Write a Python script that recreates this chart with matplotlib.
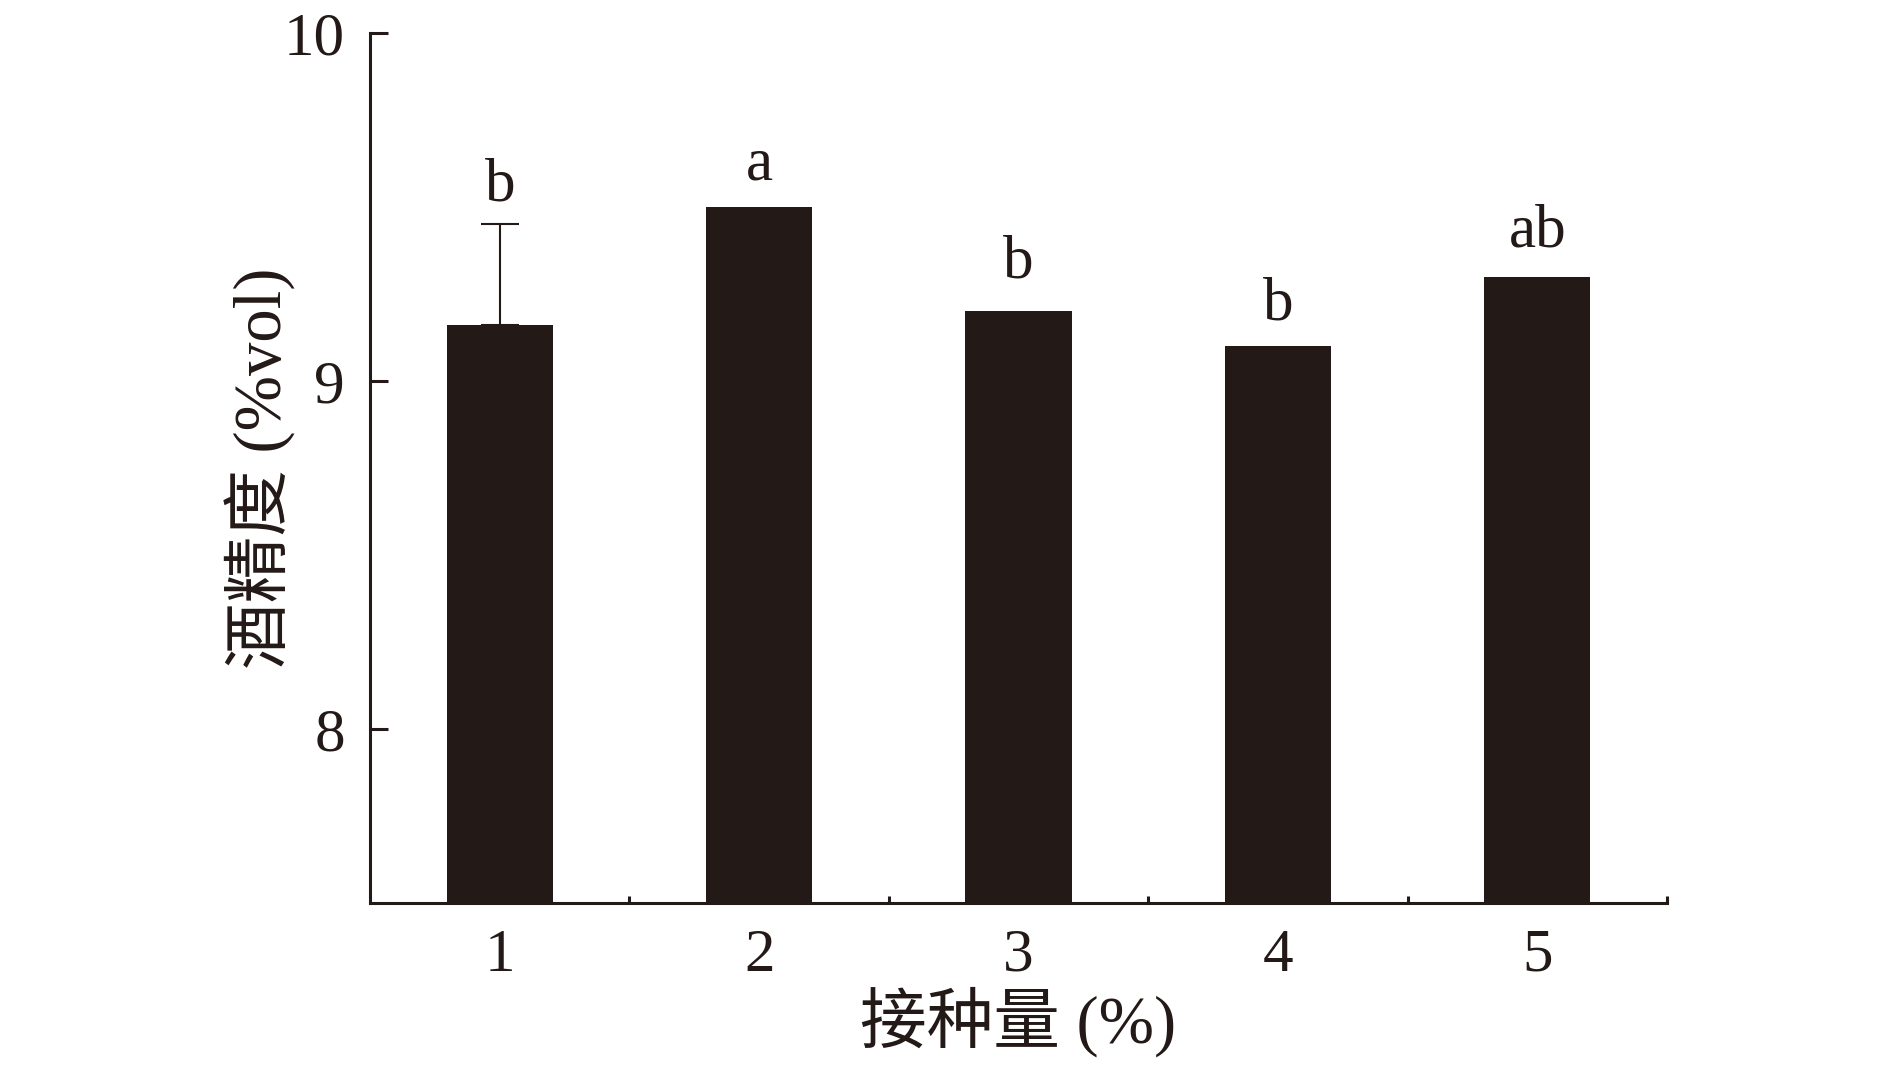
import matplotlib
matplotlib.use("Agg")
import matplotlib.pyplot as plt

# inoculum amount groups and ethanol content
groups = ["1", "2", "3", "4", "5"]
alcohol = [9.16, 9.50, 9.20, 9.10, 9.30]
err_up = [0.29, 0, 0, 0, 0]
letters = ["b", "a", "b", "b", "ab"]
letter_y = [9.56, 9.62, 9.34, 9.22, 9.43]

plt.rcParams["font.family"] = ["Liberation Serif", "Noto Sans CJK SC"]
bar_color = "#231916"

fig = plt.figure(figsize=(18.9, 10.74), dpi=100)
ax = fig.add_axes([0.1958, 0.1592, 0.6862, 0.8101])

x = list(range(1, len(groups) + 1))
ax.bar(x, alcohol, width=0.41, color=bar_color, zorder=2)
ax.errorbar(x[0], alcohol[0], yerr=[[0], [err_up[0]]], fmt="none",
            ecolor=bar_color, elinewidth=1.5, capsize=14, capthick=1.5, zorder=1)

for xi, lab, ly in zip(x, letters, letter_y):
    ax.text(xi, ly, lab, ha="center", va="center", fontsize=44, color=bar_color)

ax.set_xlim(0.5, 5.5)
ax.set_ylim(7.5, 10)
ax.set_yticks([8, 9, 10])
ax.set_yticklabels(["8", "9", "10"])
ax.set_xticks(x)
ax.set_xticklabels(groups)
ax.set_xticks([1.5, 2.5, 3.5, 4.5, 5.5], minor=True)

ax.spines["top"].set_visible(False)
ax.spines["right"].set_visible(False)
for s in ["left", "bottom"]:
    ax.spines[s].set_linewidth(2.2)
    ax.spines[s].set_color(bar_color)

ax.tick_params(axis="y", direction="in", length=13, width=2.2, labelsize=44,
               pad=18, colors=bar_color)
ax.tick_params(axis="x", which="major", length=0, labelsize=44, pad=18,
               colors=bar_color)
ax.tick_params(axis="x", which="minor", direction="in", length=5, width=2.2,
               color=bar_color)

ax.set_ylabel("酒精度 (%vol)", fontsize=48, color=bar_color)
ax.yaxis.set_label_coords(-0.057, 0.5)
ax.set_xlabel("接种量 (%)", fontsize=48, color=bar_color, labelpad=2)

fig.savefig("out.png", dpi=100)
